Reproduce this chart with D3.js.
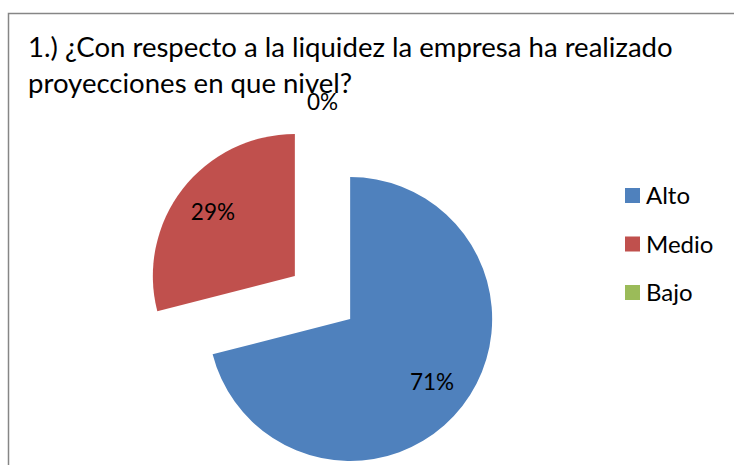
<!DOCTYPE html>
<html>
<head>
<meta charset="utf-8">
<script src="https://cdn.jsdelivr.net/npm/d3@7"></script>
<style>
  html, body { margin: 0; padding: 0; background: #fff; }
  svg { display: block; font-family: Lato, "Open Sans", sans-serif; }
</style>
</head>
<body>
<div id="chart"></div>
<script>
// Chart data
const titleLines = ['1.) ¿Con respecto a la liquidez la empresa ha realizado', 'proyecciones en que nivel?'];
const categories = ['Alto', 'Medio', 'Bajo'];
const values = [71, 29, 0];
const colors = ['#4F81BD', '#C0504D', '#9BBB59'];

const W = 734, H = 465;
const center = [322.5, 297.5];
const radius = 142;
const explode = 35;

const svg = d3.select('#chart').append('svg')
    .attr('width', W)
    .attr('height', H);

// chart frame (runs off the right and bottom edge)
svg.append('rect')
    .attr('x', 8.5).attr('y', 13.5)
    .attr('width', W).attr('height', H)
    .attr('fill', 'none')
    .attr('stroke', '#868686')
    .attr('stroke-width', 1.5);

// title, fitted to the width of the original first line
const title = svg.append('g');
const t1 = title.append('text').attr('x', 28).attr('y', 57).attr('font-size', 24).text(titleLines[0]);
const fitted = 24 * 645 / t1.node().getComputedTextLength();
t1.attr('font-size', fitted);
title.append('text').attr('x', 28).attr('y', 93).attr('font-size', fitted).text(titleLines[1]);
title.selectAll('text').attr('fill', '#000');

// pie
const pie = d3.pie().sort(null).value(d => d);
const arcs = pie(values);
const arc = d3.arc().innerRadius(0).outerRadius(radius);

const g = svg.append('g').attr('transform', `translate(${center[0]},${center[1]})`);

function offset(d, dist) {
    const a = (d.startAngle + d.endAngle) / 2;
    return [Math.sin(a) * dist, -Math.cos(a) * dist];
}

g.selectAll('.slice')
    .data(arcs)
    .enter()
    .append('path')
    .attr('class', 'slice')
    .attr('d', arc)
    .attr('fill', (d, i) => colors[i])
    .attr('transform', d => `translate(${offset(d, explode)})`);

// data labels
g.selectAll('.label')
    .data(arcs)
    .enter()
    .append('text')
    .attr('class', 'label')
    .attr('text-anchor', 'middle')
    .attr('dy', '0.35em')
    .attr('font-size', 22.5)
    .attr('fill', '#000')
    .attr('transform', d => {
        const e = offset(d, explode);
        const inside = d.endAngle - d.startAngle > 0.3;
        const l = offset(d, inside ? radius * 0.73 : radius + 18);
        return `translate(${e[0] + l[0]},${e[1] + l[1]})`;
    })
    .text(d => d.data + '%');

// legend
const legend = svg.append('g').attr('transform', 'translate(625,188)');
const items = legend.selectAll('.item')
    .data(categories)
    .enter()
    .append('g')
    .attr('class', 'item')
    .attr('transform', (d, i) => `translate(0,${i * 48.5})`);

items.append('rect')
    .attr('width', 15).attr('height', 15)
    .attr('fill', (d, i) => colors[i]);

items.append('text')
    .attr('x', 21).attr('y', 16)
    .attr('font-size', 24)
    .attr('fill', '#000')
    .text(d => d);
</script>
</body>
</html>
